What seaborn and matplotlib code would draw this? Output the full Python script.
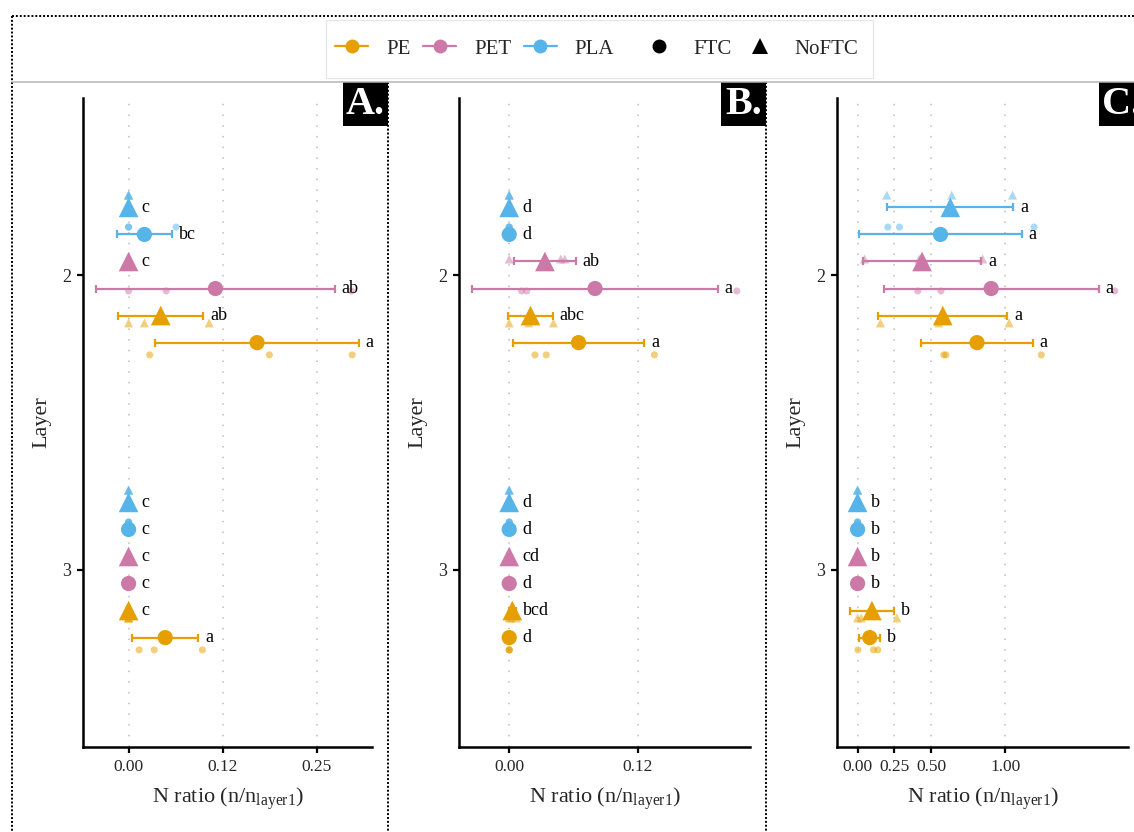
import numpy as np
import pandas as pd
import matplotlib
matplotlib.use("Agg")
import matplotlib.pyplot as plt
from matplotlib.lines import Line2D
from matplotlib.patches import Rectangle
from matplotlib.ticker import FixedLocator, StrMethodFormatter
import seaborn as sns

# ---- data -----------------------------------------------------------------
# group order inside each layer, drawn top to bottom
polymers = ["PLA", "PLA", "PET", "PET", "PE", "PE"]
treatments = ["NoFTC", "FTC", "NoFTC", "FTC", "NoFTC", "FTC"]
layers = [2, 3]

# replicate N ratios (n / n_layer1), three per group
a_layer2 = [[0, 0, 0], [0, 0, 0.063], [0, 0, 0], [0, 0.050, 0.296],
            [0, 0.021, 0.107], [0.028, 0.187, 0.297]]
a_layer3 = [[0, 0, 0], [0, 0, 0], [0, 0, 0], [0, 0, 0],
            [0, 0, 0], [0.014, 0.034, 0.098]]
b_layer2 = [[0, 0, 0], [0, 0, 0], [0, 0.050, 0.054], [0.012, 0.017, 0.221],
            [0, 0.019, 0.043], [0.025, 0.036, 0.141]]
b_layer3 = [[0, 0, 0], [0, 0, 0], [0, 0, 0], [0, 0, 0],
            [0, 0.002, 0.007], [0, 0, 0]]
c_layer2 = [[0.198, 0.638, 1.050], [0.205, 0.284, 1.196], [0.047, 0.417, 0.847],
            [0.408, 0.565, 1.743], [0.155, 0.550, 1.027], [0.584, 0.599, 1.245]]
c_layer3 = [[0, 0, 0], [0, 0, 0], [0, 0, 0], [0, 0, 0],
            [0, 0.025, 0.266], [0.002, 0.108, 0.137]]

# significance letters
a_letters2 = ["c", "bc", "c", "ab", "ab", "a"]
a_letters3 = ["c", "c", "c", "c", "c", "a"]
b_letters2 = ["d", "d", "ab", "a", "abc", "a"]
b_letters3 = ["d", "d", "cd", "d", "bcd", "d"]
c_letters2 = ["a", "a", "a", "a", "a", "a"]
c_letters3 = ["b", "b", "b", "b", "b", "b"]

panel_tags = ["A.", "B.", "C."]
a_ticks = [0, 0.125, 0.25]
b_ticks = [0, 0.125]
c_ticks = [0, 0.25, 0.5, 1.0]

# ---- style ----------------------------------------------------------------
polymer_colors = {"PE": "#E69F00", "PET": "#CC79A7", "PLA": "#56B4E9"}
treatment_markers = {"FTC": "o", "NoFTC": "^"}
mean_sizes = {"FTC": 120, "NoFTC": 200}
raw_sizes = {"FTC": 26, "NoFTC": 42}
MEAN_STEP = 0.55 / 6
RAW_STEP = 0.65 / 6

sns.set_theme(style="white")
plt.rcParams["font.family"] = ["Liberation Serif", "DejaVu Serif"]
plt.rcParams["mathtext.fontset"] = "custom"
plt.rcParams["mathtext.rm"] = "Liberation Serif"
plt.rcParams["mathtext.it"] = "Liberation Serif:italic"

W, H = 1134, 832
fig = plt.figure(figsize=(W / 100, H / 100), dpi=100)


def fx(px):
    return px / W


def fy(py):
    return 1 - py / H


def build_frames(raw_l2, raw_l3, let_l2, let_l3):
    rows, summ = [], []
    for layer, raw, lets in zip(layers, [raw_l2, raw_l3], [let_l2, let_l3]):
        for i, (p, t, vals, lab) in enumerate(zip(polymers, treatments, raw, lets)):
            for v in vals:
                rows.append(dict(layer=layer, idx=i, polymer=p, treatment=t, value=v))
            summ.append(dict(layer=layer, idx=i, polymer=p, treatment=t, letter=lab,
                             mean=np.mean(vals), sd=np.std(vals, ddof=1)))
    df = pd.DataFrame(rows)
    df["y"] = df["layer"] + (df["idx"] - 2.5) * RAW_STEP
    sm = pd.DataFrame(summ)
    sm["y"] = sm["layer"] + (sm["idx"] - 2.5) * MEAN_STEP
    sm["lo"] = sm["mean"] - sm["sd"]
    sm["hi"] = sm["mean"] + sm["sd"]
    return df, sm


def draw_panel(ax, df, sm, ticks):
    # replicate points
    for t in ["FTC", "NoFTC"]:
        sub = df[df["treatment"] == t]
        sns.scatterplot(data=sub, x="value", y="y", hue="polymer", palette=polymer_colors,
                        marker=treatment_markers[t], s=raw_sizes[t], alpha=0.5,
                        linewidth=0, legend=False, ax=ax, zorder=2)
    # mean +/- sd
    for _, r in sm.iterrows():
        ax.errorbar(r["mean"], r["y"], xerr=r["sd"], fmt="none",
                    ecolor=polymer_colors[r["polymer"]], elinewidth=1.6,
                    capsize=2.9, capthick=1.6, zorder=3)
    for t in ["FTC", "NoFTC"]:
        sub = sm[sm["treatment"] == t]
        sns.scatterplot(data=sub, x="mean", y="y", hue="polymer", palette=polymer_colors,
                        marker=treatment_markers[t], s=mean_sizes[t], linewidth=0,
                        legend=False, ax=ax, zorder=4)
    for _, r in sm.iterrows():
        off = 5.0 if r["sd"] > 0 else 9.5
        ax.annotate(r["letter"], xy=(r["hi"], r["y"]), xytext=(off, 0),
                    textcoords="offset points", ha="left", va="center",
                    fontsize=13, color="black", zorder=5)

    lo = min(sm["lo"].min(), df["value"].min())
    hi = max(sm["hi"].max(), df["value"].max())
    pad = 0.05 * (hi - lo)
    ax.set_xlim(lo - pad, hi + pad)
    ax.set_ylim(3.6, 1.4)
    ax.set_yticks(layers)
    ax.set_yticklabels([str(l) for l in layers])
    ax.xaxis.set_major_locator(FixedLocator(ticks))
    ax.xaxis.set_major_formatter(StrMethodFormatter("{x:.2f}"))
    for x in ticks:
        ax.axvline(x, color="#BDBDBD", lw=1.1, ls=(0, (1, 6)), zorder=1)
    for s in ["top", "right"]:
        ax.spines[s].set_visible(False)
    for s in ["left", "bottom"]:
        ax.spines[s].set_color("black")
        ax.spines[s].set_linewidth(1.8)
    ax.tick_params(axis="both", which="major", length=4.5, width=1.6, color="black",
                   bottom=True, left=True, pad=4)
    ax.tick_params(axis="y", labelsize=13)
    ax.tick_params(axis="x", labelsize=12.5)
    ax.set_xlabel(r"N ratio (n/n$_\mathregular{layer1}$)", fontsize=16, labelpad=8)
    ax.set_ylabel("Layer", fontsize=16, labelpad=8)
    ax.set_facecolor("white")


panel_edges = [12, 388, 766, 1144]
ax_top, ax_bottom = 98, 747
datasets = [(a_layer2, a_layer3, a_letters2, a_letters3, a_ticks),
            (b_layer2, b_layer3, b_letters2, b_letters3, b_ticks),
            (c_layer2, c_layer3, c_letters2, c_letters3, c_ticks)]

for k, (r2, r3, l2, l3, ticks) in enumerate(datasets):
    left_px = panel_edges[k] + 71
    right_px = panel_edges[k + 1] - 16
    ax = fig.add_axes([fx(left_px), fy(ax_bottom), fx(right_px - left_px),
                       (ax_bottom - ax_top) / H])
    df, sm = build_frames(r2, r3, l2, l3)
    draw_panel(ax, df, sm, ticks)

    # panel tag in a black box at the panel's top-right corner
    bx0, bx1, by0, by1 = panel_edges[k + 1] - 45, panel_edges[k + 1], 82, 126
    fig.add_artist(Rectangle((fx(bx0), fy(by1)), fx(bx1 - bx0), (by1 - by0) / H,
                             transform=fig.transFigure, facecolor="black",
                             edgecolor="none", zorder=10))
    fig.text(fx((bx0 + bx1) / 2), fy((by0 + by1) / 2 + 1), panel_tags[k],
             ha="center", va="center", color="white", fontsize=29,
             fontweight="bold", zorder=11)

# frame lines: dotted outer border, dotted dividers, grey rule under legend
dot = dict(color="black", lw=1.4, ls=(0, (1, 1)), transform=fig.transFigure, zorder=12)
fig.add_artist(Line2D([fx(12), fx(12)], [fy(16), fy(H + 5)], **dot))
fig.add_artist(Line2D([fx(12), fx(W + 5)], [fy(16), fy(16)], **dot))
for xe in panel_edges[1:3]:
    fig.add_artist(Line2D([fx(xe), fx(xe)], [fy(82), fy(H + 5)], **dot))
fig.add_artist(Line2D([fx(12), fx(W + 5)], [fy(81.5), fy(81.5)], color="#B4B4B4",
                      lw=1.1, transform=fig.transFigure, zorder=12))

# legend
fig.add_artist(Rectangle((fx(326), fy(78)), fx(873 - 326), (78 - 20) / H,
                         transform=fig.transFigure, facecolor="white",
                         edgecolor="#E6E6E6", lw=0.9, zorder=8))
color_handles = [Line2D([0], [0], color=polymer_colors[p], lw=1.6, marker="o",
                        markersize=10, markeredgewidth=0) for p in ["PE", "PET", "PLA"]]
shape_handles = [Line2D([0], [0], color="black", lw=0, marker=treatment_markers[t],
                        markersize=10 if t == "FTC" else 12, markeredgewidth=0)
                 for t in ["FTC", "NoFTC"]]
leg_kw = dict(loc="center left", ncol=3, frameon=False, fontsize=15, borderpad=0,
              borderaxespad=0, handlelength=1.6, handletextpad=0.85, columnspacing=0.6)
leg1 = fig.legend(color_handles, ["PE", "PET", "PLA"],
                  bbox_to_anchor=(fx(335), fy(49)), **leg_kw)
leg1.set_zorder(9)
leg_kw["ncol"] = 2
leg2 = fig.legend(shape_handles, ["FTC", "NoFTC"],
                  bbox_to_anchor=(fx(642), fy(49)), **leg_kw)
leg2.set_zorder(9)

fig.savefig("out.png", dpi=100, facecolor="white")
